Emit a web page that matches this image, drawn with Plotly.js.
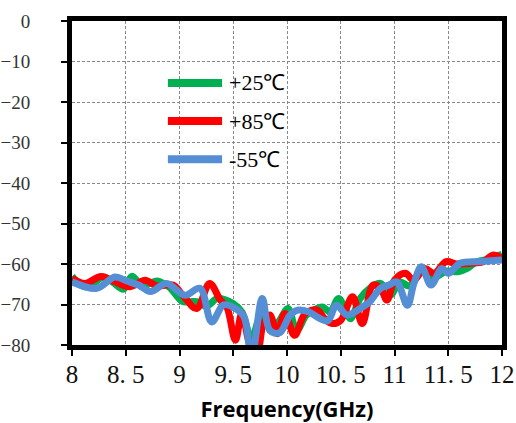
<!DOCTYPE html>
<html>
<head>
<meta charset="utf-8">
<script src="https://cdn.plot.ly/plotly-3.0.1.min.js"></script>
<style>html,body{margin:0;padding:0;background:#fff;}#chart{width:516px;height:423px;}</style>
</head>
<body>
<div id="chart"></div>
<script>
// +25 ℃ (green)
const freq25 = [8.00, 8.05, 8.12, 8.20, 8.29, 8.38, 8.48, 8.56, 8.65, 8.72, 8.79, 8.85, 8.91, 9.03, 9.10, 9.16, 9.25, 9.35, 9.42, 9.50, 9.58, 9.67, 9.75, 9.80, 9.87, 9.93, 10.01, 10.09, 10.18, 10.26, 10.33, 10.40, 10.48, 10.54, 10.59, 10.68, 10.77, 10.87, 10.96, 11.05, 11.14, 11.26, 11.35, 11.48, 11.59, 11.68, 11.76, 11.88, 12.00];
const s25 = [-63.0, -64.5, -65.6, -64.8, -63.2, -64.5, -66.2, -63.0, -65.6, -64.8, -64.2, -64.8, -65.8, -69.3, -69.3, -69.3, -70.4, -68.5, -68.8, -69.8, -71.8, -78.5, -73.2, -74.0, -76.0, -74.0, -71.0, -76.4, -72.6, -71.2, -70.6, -71.8, -68.5, -71.0, -73.5, -68.5, -66.0, -64.8, -67.7, -64.5, -65.4, -61.5, -63.5, -61.8, -61.9, -61.0, -59.5, -58.8, -57.6];
// +85 ℃ (red)
const freq85 = [8.00, 8.12, 8.27, 8.40, 8.54, 8.68, 8.79, 8.94, 9.03, 9.16, 9.28, 9.38, 9.44, 9.52, 9.58, 9.66, 9.72, 9.78, 9.84, 9.91, 9.98, 10.07, 10.17, 10.28, 10.35, 10.42, 10.50, 10.61, 10.70, 10.80, 10.87, 10.93, 11.00, 11.10, 11.18, 11.28, 11.37, 11.48, 11.58, 11.70, 11.82, 11.92, 12.00];
const s85 = [-63.5, -64.8, -63.1, -64.4, -65.6, -64.0, -65.4, -65.2, -67.7, -71.0, -64.8, -68.9, -70.6, -78.8, -72.2, -80.4, -82.0, -74.7, -72.6, -77.2, -72.2, -77.6, -72.2, -71.4, -73.5, -74.7, -73.9, -68.1, -74.7, -65.2, -66.0, -68.9, -64.0, -62.3, -64.0, -61.1, -62.3, -59.4, -60.0, -59.8, -59.5, -57.8, -58.6];
// -55 ℃ (blue)
const freqM55 = [8.00, 8.23, 8.40, 8.51, 8.62, 8.73, 8.88, 9.05, 9.19, 9.30, 9.41, 9.52, 9.60, 9.67, 9.77, 9.84, 9.93, 10.03, 10.10, 10.20, 10.31, 10.38, 10.46, 10.56, 10.68, 10.77, 10.87, 10.95, 11.02, 11.12, 11.18, 11.25, 11.34, 11.44, 11.50, 11.61, 11.80, 12.00];
const sM55 = [-64.4, -66.0, -63.2, -64.2, -65.2, -66.8, -64.8, -67.7, -66.0, -74.3, -70.1, -71.0, -73.0, -83.0, -68.5, -76.4, -77.0, -72.6, -71.4, -71.8, -73.5, -74.0, -70.2, -72.6, -71.0, -69.3, -66.0, -65.2, -64.4, -70.2, -64.8, -60.7, -65.2, -61.1, -62.3, -59.8, -59.4, -59.0];

const seriesNames = ['+25℃', '+85℃', '-55℃'];
const seriesColors = ['#00b050', '#ff0000', '#558ed5'];
const xTickVals = [8, 8.5, 9, 9.5, 10, 10.5, 11, 11.5, 12];
const xTickText = ['8', '8. 5', '9', '9. 5', '10', '10. 5', '11', '11. 5', '12'];
const yTickVals = [0, -10, -20, -30, -40, -50, -60, -70, -80];

const xs = [freq25, freq85, freqM55];
const ys = [s25, s85, sM55];

const traces = xs.map((x, i) => ({
  x: x, y: ys[i], type: 'scatter', mode: 'lines', name: seriesNames[i],
  showlegend: false,
  line: {color: seriesColors[i], width: 7, shape: 'spline', smoothing: 1}
}));

const serif = 'Liberation Serif, serif';

// Legend drawn as key lines + labels (in paper space) built from the series names/colours
const legX0 = 0.223, legX1 = 0.349, legTextX = 0.36, legY0 = 0.809, legStep = 0.118;
const shapes = seriesNames.map((n, i) => ({
  type: 'line', xref: 'paper', yref: 'paper',
  x0: legX0, x1: legX1, y0: legY0 - i * legStep, y1: legY0 - i * legStep,
  line: {color: seriesColors[i], width: 8}, layer: 'above'
}));
const annotations = seriesNames.map((n, i) => ({
  xref: 'paper', yref: 'paper', x: legTextX, y: legY0 - i * legStep,
  xanchor: 'left', yanchor: 'middle', showarrow: false, text: n,
  font: {family: serif, size: 22, color: '#000'}
}));

const layout = {
  width: 516, height: 423,
  margin: {l: 72, r: 14, t: 21, b: 78},
  paper_bgcolor: '#fff', plot_bgcolor: '#fff',
  showlegend: false,
  shapes: shapes,
  annotations: annotations,
  xaxis: {
    range: [8, 12], tickmode: 'array', tickvals: xTickVals, ticktext: xTickText,
    showline: true, linecolor: '#000', linewidth: 5, mirror: true,
    ticks: 'outside', ticklen: 6, tickwidth: 2, tickcolor: '#000',
    ticklabelstandoff: -3,
    showgrid: true, gridcolor: '#888', gridwidth: 1, griddash: '3px,2px',
    zeroline: false,
    tickfont: {family: serif, size: 25, color: '#111'},
    title: {text: 'Frequency(GHz)', font: {family: 'Open Sans', size: 22, color: '#000', weight: 'bold'}, standoff: 18}
  },
  yaxis: {
    range: [-80, 0], tickmode: 'array', tickvals: yTickVals,
    showline: true, linecolor: '#000', linewidth: 5, mirror: true,
    ticks: 'outside', ticklen: 6, tickwidth: 2, tickcolor: '#000',
    ticklabelstandoff: 27,
    showgrid: true, gridcolor: '#888', gridwidth: 1, griddash: '3px,2px',
    zeroline: false,
    tickfont: {family: serif, size: 19, color: '#333'}
  }
};

Plotly.newPlot('chart', traces, layout, {displayModeBar: false, staticPlot: true});
</script>
</body>
</html>
